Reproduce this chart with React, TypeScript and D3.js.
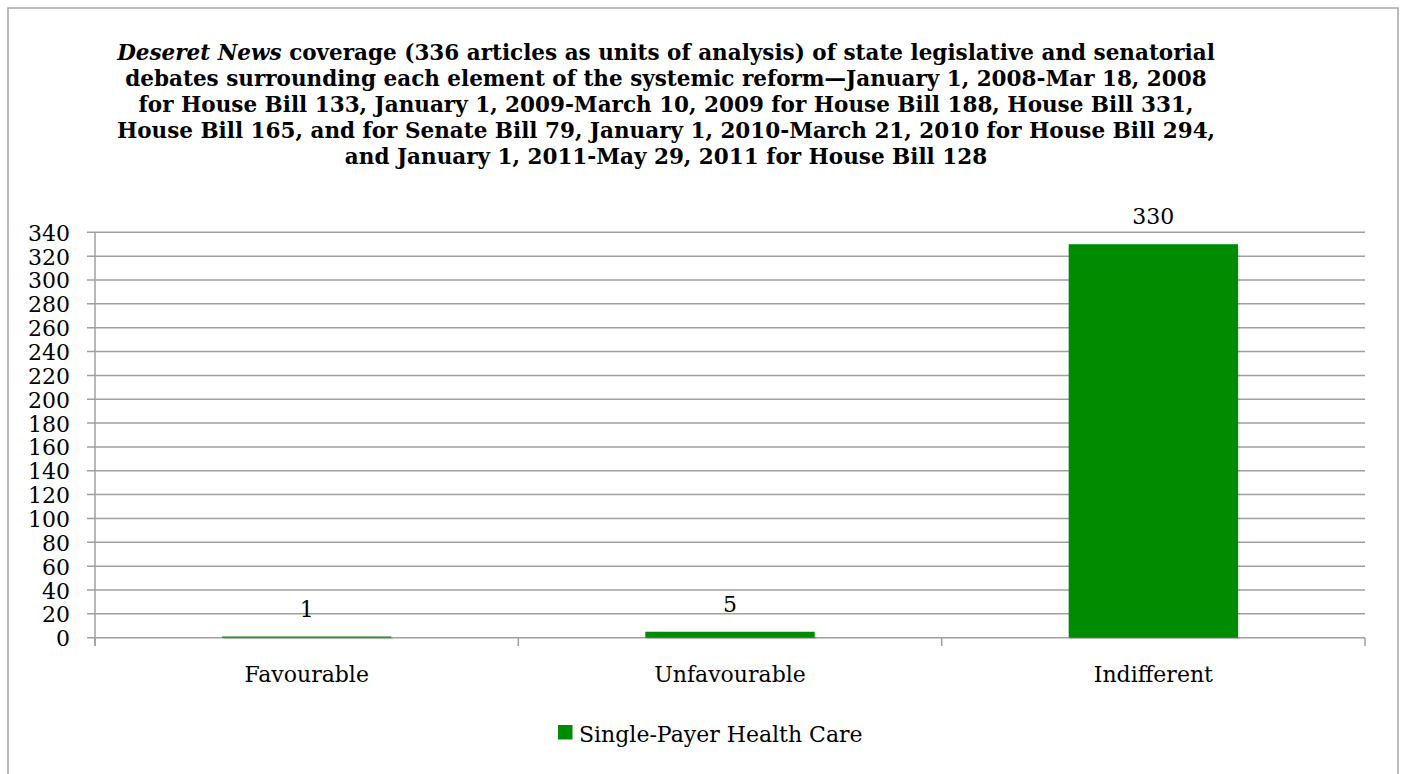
import React from "react";
import * as d3 from "d3";

const categories = ["Favourable", "Unfavourable", "Indifferent"];
const values = [1, 5, 330];
const seriesName = "Single-Payer Health Care";
const yTicks = [0, 20, 40, 60, 80, 100, 120, 140, 160, 180, 200, 220, 240, 260, 280, 300, 320, 340];
const titleLines = [
  "coverage (336 articles as units of analysis) of state legislative and senatorial",
  "debates surrounding each element of the systemic reform\u2014January 1, 2008-Mar 18, 2008",
  "for House Bill 133, January 1, 2009-March 10, 2009 for House Bill 188, House Bill 331,",
  "House Bill 165, and for Senate Bill 79, January 1, 2010-March 21, 2010 for House Bill 294,",
  "and January 1, 2011-May 29, 2011 for House Bill 128",
];
const titleItalic = "Deseret News";

const W = 1405;
const H = 774;
const GREEN = "#008c00";
const GRID = "#a0a0a0";
const LABEL_FONT = "'DejaVu Serif', serif";
const TITLE_FONT = "'DejaVu Serif', serif";

export default function App() {
  const x = d3.scaleBand<string>().domain(categories).range([95, 1365]).paddingInner(0.6).paddingOuter(0.3);
  const y = d3.scaleLinear().domain([0, 340]).range([637.7, 232.3]);
  const step = x.step();
  const boundaries = d3.range(categories.length + 1).map((i) => 95 + i * step);

  return (
    <svg width={W} height={H} style={{ position: "absolute", left: 0, top: 0, background: "#fff" }}>
      <rect x={8} y={8} width={1390} height={820} fill="#fff" stroke="#a6a6a6" strokeWidth={1.5} />
      {/* title */}
      <g fontFamily={TITLE_FONT} fontWeight="bold" fontSize={21.5} fill="#000" textAnchor="middle">
        {titleLines.map((line, i) => (
          <text key={i} x={666} y={59.5 + i * 26.2}>
            {i === 0 ? (
              <>
                <tspan fontStyle="italic">{titleItalic}</tspan> {line}
              </>
            ) : (
              line
            )}
          </text>
        ))}
      </g>
      {/* gridlines */}
      {yTicks.map((t) => (
        <line key={t} x1={87} x2={1365} y1={y(t)} y2={y(t)} stroke={GRID} strokeWidth={1.5} />
      ))}
      {/* y axis */}
      <line x1={95} x2={95} y1={y(340)} y2={646} stroke={GRID} strokeWidth={1.5} />
      {boundaries.map((b, i) => (
        <line key={i} x1={b} x2={b} y1={y(0)} y2={646} stroke={GRID} strokeWidth={1.5} />
      ))}
      {/* bars */}
      {categories.map((c, i) => (
        <g key={c}>
          <rect x={x(c)! + 1.5} y={y(values[i]) + 1.5} width={x.bandwidth()} height={y(0) - y(values[i])} fill="#000" opacity={0.12} />
          <rect x={x(c)} y={y(values[i])} width={x.bandwidth()} height={y(0) - y(values[i])} fill={GREEN} />
        </g>
      ))}
      {/* labels */}
      <g fontFamily={LABEL_FONT} fontSize={22} fill="#000">
        {yTicks.map((t) => (
          <text key={t} x={70} y={y(t) + 8.5} textAnchor="end">
            {t}
          </text>
        ))}
        {categories.map((c, i) => (
          <text key={c} x={x(c)! + x.bandwidth() / 2} y={y(values[i]) - 20} textAnchor="middle">
            {values[i]}
          </text>
        ))}
        {categories.map((c) => (
          <text key={c} x={x(c)! + x.bandwidth() / 2} y={682} textAnchor="middle">
            {c}
          </text>
        ))}
        <rect x={558} y={725} width={14.5} height={14.5} fill={GREEN} />
        <text x={579} y={742}>
          {seriesName}
        </text>
      </g>
    </svg>
  );
}
